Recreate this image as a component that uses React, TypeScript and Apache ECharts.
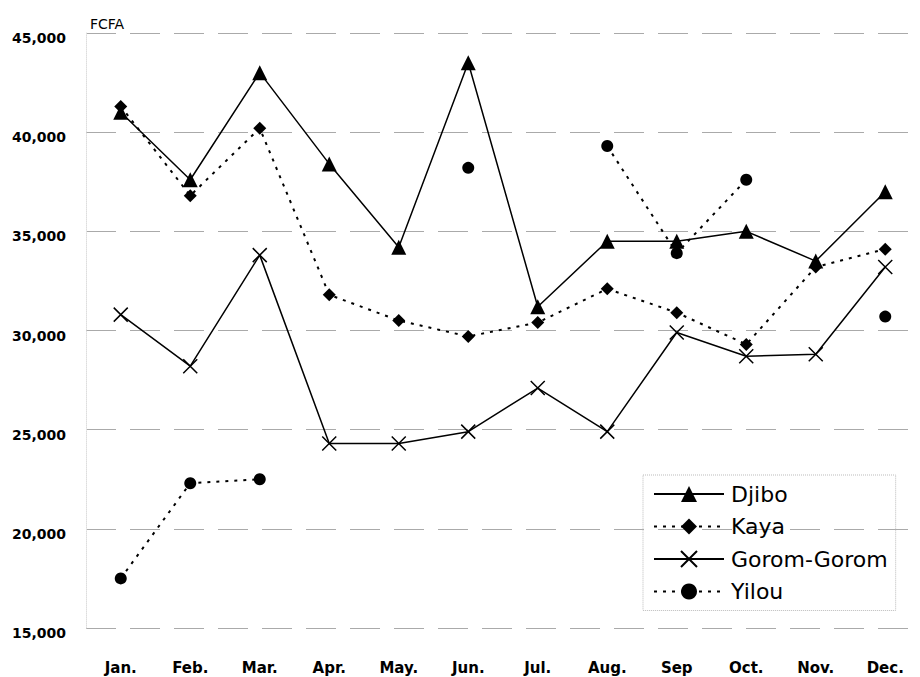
import React, { useEffect, useRef } from "react";
import * as echarts from "echarts";

const months = ["Jan.", "Feb.", "Mar.", "Apr.", "May.", "Jun.", "Jul.", "Aug.", "Sep", "Oct.", "Nov.", "Dec."];
const djibo = [41000, 37600, 43000, 38400, 34200, 43500, 31200, 34500, 34500, 35000, 33500, 37000];
const kaya = [41300, 36800, 40200, 31800, 30500, 29700, 30400, 32100, 30900, 29300, 33200, 34100];
const gorom = [30800, 28200, 33800, 24300, 24300, 24900, 27100, 24900, 29900, 28700, 28800, 33200];
const yilou = [17500, 22300, 22500, null, null, 38200, null, 39300, 33900, 37600, null, 30700];
const unitLabel = "FCFA";

const CROSS = "path://M0,0L10,10M10,0L0,10";
const FONT = "DejaVu Sans";

export default function App() {
  const ref = useRef<HTMLDivElement>(null);
  useEffect(() => {
    if (!ref.current) return;
    const chart = echarts.init(ref.current, undefined, { renderer: "svg" });
    const dotted = [3, 6];
    chart.setOption({
      animation: false,
      backgroundColor: "#fff",
      textStyle: { fontFamily: FONT, color: "#000" },
      grid: { left: 86, right: -3, top: 33, bottom: 49 },
      graphic: [
        {
          type: "text",
          left: 90,
          top: 17,
          style: { text: unitLabel, fontSize: 14, fontFamily: FONT, fill: "#000" },
        },
      ],
      legend: {
        orient: "vertical",
        left: 643,
        top: 475,
        padding: [8, 8, 8, 10],
        itemWidth: 70,
        itemHeight: 20,
        itemGap: 10.5,
        borderColor: "#bbb",
        borderWidth: 1,
        borderType: "dotted",
        textStyle: { fontSize: 22, fontFamily: FONT, color: "#000", padding: [0, 0, 0, 2] },
        data: ["Djibo", "Kaya", "Gorom-Gorom", "Yilou"],
      },
      xAxis: {
        type: "category",
        data: months,
        boundaryGap: true,
        axisLine: { show: false },
        axisTick: { show: false },
        axisLabel: { margin: 32, fontSize: 15, fontWeight: "bold", color: "#000", fontFamily: FONT },
        splitLine: { show: false },
      },
      yAxis: {
        type: "value",
        min: 15000,
        max: 45000,
        interval: 5000,
        axisLine: { show: true, lineStyle: { color: "#ddd", type: "dotted", width: 1 } },
        axisTick: { show: false },
        axisLabel: {
          margin: 20,
          fontSize: 14,
          fontWeight: "bold",
          color: "#000",
          fontFamily: FONT,
          verticalAlign: "top",
          lineHeight: 10,
          formatter: (v: number) => v.toLocaleString("en-US"),
        },
        splitLine: { show: true, lineStyle: { color: "#aaa", type: [30, 14], width: 1 } },
      },
      series: [
        {
          name: "Djibo",
          type: "line",
          data: djibo,
          symbol: "triangle",
          symbolSize: 15,
          lineStyle: { color: "#000", width: 1.5, type: "solid" },
          itemStyle: { color: "#000" },
        },
        {
          name: "Kaya",
          type: "line",
          data: kaya,
          symbol: "diamond",
          symbolSize: 13,
          lineStyle: { color: "#000", width: 2, type: dotted },
          itemStyle: { color: "#000" },
        },
        {
          name: "Gorom-Gorom",
          type: "line",
          data: gorom,
          symbol: CROSS,
          symbolSize: 14,
          lineStyle: { color: "#000", width: 1.5, type: "solid" },
          itemStyle: { color: "none", borderColor: "#000", borderWidth: 1.5 },
        },
        {
          name: "Yilou",
          type: "line",
          data: yilou,
          connectNulls: false,
          symbol: "circle",
          symbolSize: 12,
          lineStyle: { color: "#000", width: 2, type: dotted },
          itemStyle: { color: "#000" },
        },
      ],
    });
    return () => chart.dispose();
  }, []);
  return (
    <div
      ref={ref}
      style={{ position: "fixed", left: 0, top: 0, width: 920, height: 677, background: "#fff" }}
    />
  );
}
